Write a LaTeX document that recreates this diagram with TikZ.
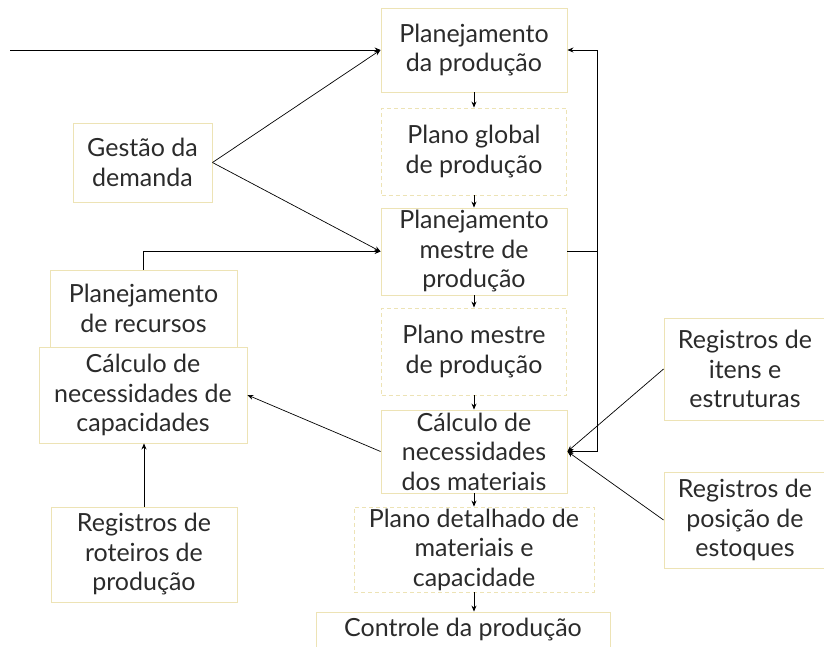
\documentclass[tikz,border=0pt]{standalone}
\usepackage{fontspec}
\setmainfont{Lato}
\usetikzlibrary{arrows.meta}
\definecolor{boxline}{HTML}{EDE3B5}
\definecolor{txt}{HTML}{2B2B2B}
\begin{document}
\begin{tikzpicture}[x=1pt,y=-1pt,
  box/.style={draw=boxline, line width=0.9pt, rectangle, inner sep=0pt, align=center,
    text=txt, font=\fontsize{25}{29.5}\selectfont},
  dbox/.style={box, dashed, dash pattern=on 4pt off 3pt},
  arr/.style={-{Stealth[length=6pt,width=5pt]}, line width=0.7pt, draw=black},
  ln/.style={line width=0.7pt, draw=black}]
\useasboundingbox (0,0) rectangle (824,646);
% centre column
\node[box, minimum width=186pt, minimum height=84pt] (pp) at (474,50) {Planejamento\\da produção};
\node[dbox, minimum width=185pt, minimum height=87pt] (pg) at (474,151.5) {Plano global\\de produção};
\node[box, minimum width=186pt, minimum height=87pt] (pm) at (474,251.5) {Planejamento\\mestre de\\produção};
\node[dbox, minimum width=185pt, minimum height=87pt] (plm) at (474,351.5) {Plano mestre\\de produção};
\node[box, minimum width=186pt, minimum height=83pt] (cm) at (474,451.5) {Cálculo de\\necessidades\\dos materiais};
\node[dbox, minimum width=240pt, minimum height=85pt] (pd) at (474,549.5) {Plano detalhado de\\materiais e\\capacidade};
\node[box, minimum width=294pt, minimum height=36pt] (cp) at (463,630) {Controle da produção};
% left column
\node[box, minimum width=139pt, minimum height=79pt] (gd) at (142.5,162.5) {Gestão da\\demanda};
\node[box, minimum width=187pt, minimum height=77pt] (pr) at (143.5,308.5) {Planejamento\\de recursos};
\node[box, minimum width=208pt, minimum height=96pt] (cc) at (143,395) {Cálculo de\\necessidades de\\capacidades};
\node[box, minimum width=186pt, minimum height=95pt] (rr) at (144,554.5) {Registros de\\roteiros de\\produção};
% right column
\node[box, minimum width=162pt, minimum height=102pt] (ri) at (745,369) {Registros de\\itens e\\estruturas};
\node[box, minimum width=162pt, minimum height=96pt] (rp) at (745,520) {Registros de\\posição de\\estoques};
% connectors
\coordinate (start) at (10,50);
\coordinate (lx) at (597,0);
\draw[arr] (start) -- (pp.west);
\draw[arr] (gd.east) -- (pp.west);
\draw[arr] (gd.east) -- (pm.west);
\draw[arr] (pr.north) |- (pm.west);
\draw[arr] (pp.south) -- (pg.north);
\draw[arr] (pg.south) -- (pm.north);
\draw[arr] (pm.south) -- (plm.north);
\draw[arr] (plm.south) -- (cm.north);
\draw[arr] (cm.south) -- (pd.north);
\draw[arr] (pd.south) -- (pd.south|-cp.north);
\draw[ln] (pm.east) -- (pm.east -| lx);
\draw[arr] (pm.east -| lx) |- (pp.east);
\draw[arr] (pm.east -| lx) |- (cm.east);
\draw[arr] (ri.west) -- (cm.east);
\draw[arr] (rp.west) -- (cm.east);
\draw[arr] (cm.west) -- (cc.east);
\draw[arr] (rr.north) -- (rr.north|-cc.south);
\end{tikzpicture}
\end{document}
